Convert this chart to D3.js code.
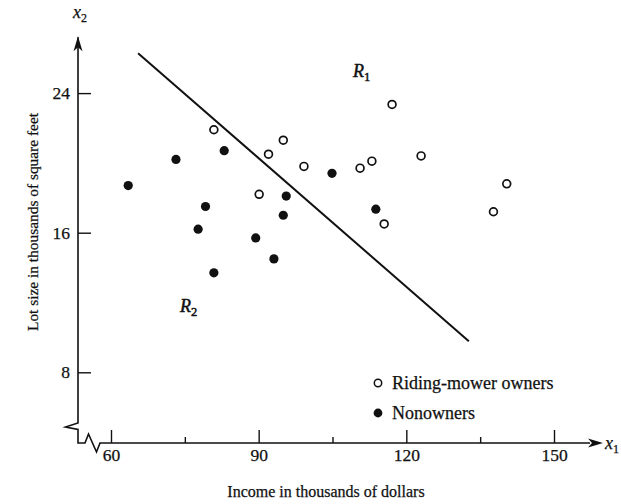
<!DOCTYPE html>
<html>
<head>
<meta charset="utf-8">
<script src="https://cdn.jsdelivr.net/npm/d3@7"></script>
<style>
  html, body { margin: 0; padding: 0; background: #fff; }
  svg { display: block; }
  text { font-family: "Liberation Serif", "Times New Roman", serif; fill: #111; stroke: #111; stroke-width: 0.25px; }
</style>
</head>
<body>
<svg id="chart" width="621" height="504"></svg>
<script>
// ---- data ----
const ownersIncome    = [80.9, 95.0, 92.0, 99.2, 90.1, 110.6, 113.0, 117.1, 115.5, 123.0, 140.4, 137.7];
const ownersLot       = [21.9, 21.3, 20.5, 19.8, 18.2, 19.7, 20.1, 23.35, 16.5, 20.4, 18.8, 17.2];
const nonownersIncome = [83.0, 73.2, 63.5, 79.2, 77.7, 80.9, 89.4, 93.1, 95.0, 95.6, 104.9, 113.8];
const nonownersLot    = [20.7, 20.2, 18.7, 17.5, 16.2, 13.7, 15.7, 14.5, 17.0, 18.1, 19.4, 17.35];
const boundaryX = [65.5, 132.7];
const boundaryY = [26.29, 9.78];
const xMajorTicks = [60, 90, 120, 150];
const xMinorTicks = [75, 105, 135];
const yTicks = [8, 16, 24];
const legendLabels = ["Riding-mower owners", "Nonowners"];
const xTitle = "Income in thousands of dollars";
const yTitle = "Lot size in thousands of square feet";

// ---- layout ----
const svg = d3.select("#chart");
svg.append("rect").attr("width", 621).attr("height", 504).attr("fill", "#fff");

const x = d3.scaleLinear().domain([60, 150]).range([111, 554]);
const y = d3.scaleLinear().domain([4, 28]).range([442.1, 23.3]);
const axisX = 78;     // pixel x of vertical axis
const axisY = 443;    // pixel y of horizontal axis
const ink = "#111";

// axis lines with break
const axisPath = d3.path();
axisPath.moveTo(axisX, y(27.2));
axisPath.lineTo(axisX, axisY - 20);
axisPath.lineTo(axisX - 12.5, axisY - 16);
axisPath.lineTo(axisX, axisY - 13.5);
axisPath.lineTo(axisX, axisY);
axisPath.lineTo(axisX + 7, axisY);
axisPath.lineTo(axisX + 10.5, axisY - 9);
axisPath.lineTo(axisX + 18.5, axisY + 9);
axisPath.lineTo(axisX + 22, axisY);
axisPath.lineTo(590, axisY);
svg.append("path").attr("d", axisPath.toString())
  .attr("fill", "none").attr("stroke", ink).attr("stroke-width", 1.6)
  .attr("stroke-linejoin", "miter");

// arrowheads
svg.append("path")
  .attr("d", `M${axisX},${y(27.2)-1} L${axisX-4.5},${y(27.2)+14} L${axisX},${y(27.2)+10} L${axisX+4.5},${y(27.2)+14} Z`)
  .attr("fill", ink);
svg.append("path")
  .attr("d", `M603,${axisY} L588,${axisY-4.5} L592,${axisY} L588,${axisY+4.5} Z`)
  .attr("fill", ink);

// y axis ticks
const yAxis = d3.axisLeft(y).tickValues(yTicks).tickSizeInner(-13).tickSizeOuter(0).tickPadding(8)
  .tickFormat(d3.format("d"));
const gy = svg.append("g").attr("transform", `translate(${axisX},0)`).call(yAxis);
gy.select(".domain").remove();
gy.selectAll("line").attr("stroke", ink).attr("stroke-width", 1.4);
gy.selectAll("text").style("font-family", "Liberation Serif").style("font-size", "17.5px").attr("fill", ink);

// x axis ticks
const xAxis = d3.axisBottom(x).tickValues(xMajorTicks).tickSizeInner(-13).tickSizeOuter(0).tickPadding(6)
  .tickFormat(d3.format("d"));
const gx = svg.append("g").attr("transform", `translate(0,${axisY})`).call(xAxis);
gx.select(".domain").remove();
gx.selectAll("line").attr("stroke", ink).attr("stroke-width", 1.4);
gx.selectAll("text").style("font-family", "Liberation Serif").style("font-size", "17.5px").attr("fill", ink);

const xMinor = d3.axisBottom(x).tickValues(xMinorTicks).tickSizeInner(-6).tickSizeOuter(0).tickFormat("");
const gxm = svg.append("g").attr("transform", `translate(0,${axisY})`).call(xMinor);
gxm.select(".domain").remove();
gxm.selectAll("line").attr("stroke", ink).attr("stroke-width", 1.4);

// axis variable labels x1, x2
const x2 = svg.append("text").attr("x", 73).attr("y", 18)
  .style("font-size", "18px").style("font-style", "italic");
x2.append("tspan").text("x");
x2.append("tspan").attr("dy", 4).style("font-size", "12px").style("font-style", "normal").text("2");

const x1 = svg.append("text").attr("x", 605).attr("y", 449)
  .style("font-size", "18px").style("font-style", "italic");
x1.append("tspan").text("x");
x1.append("tspan").attr("dy", 4).style("font-size", "12px").style("font-style", "normal").text("1");

// axis titles
svg.append("text").attr("x", 326).attr("y", 497).attr("text-anchor", "middle")
  .style("font-size", "16px").text(xTitle);
svg.append("text").attr("transform", `translate(38,222) rotate(-90)`).attr("text-anchor", "middle")
  .style("font-size", "15.4px").text(yTitle);

// boundary line
const lineData = boundaryX.map((d, i) => [d, boundaryY[i]]);
svg.append("path")
  .attr("d", d3.line().x(d => x(d[0])).y(d => y(d[1]))(lineData))
  .attr("fill", "none").attr("stroke", ink).attr("stroke-width", 2);

// points
const owners = ownersIncome.map((d, i) => [d, ownersLot[i]]);
const nonowners = nonownersIncome.map((d, i) => [d, nonownersLot[i]]);
svg.append("g").selectAll("circle").data(owners).join("circle")
  .attr("cx", d => x(d[0])).attr("cy", d => y(d[1])).attr("r", 3.9)
  .attr("fill", "#fff").attr("stroke", ink).attr("stroke-width", 1.7);
svg.append("g").selectAll("circle").data(nonowners).join("circle")
  .attr("cx", d => x(d[0])).attr("cy", d => y(d[1])).attr("r", 4.6)
  .attr("fill", ink);

// region labels
function regionLabel(px, py, sub) {
  const t = svg.append("text").attr("x", px).attr("y", py)
    .style("font-size", "18px").style("font-style", "italic").style("stroke-width", "0.5px");
  t.append("tspan").text("R");
  t.append("tspan").attr("dy", 4).style("font-size", "12.5px").style("font-style", "normal").text(sub);
}
regionLabel(353, 77, "1");
regionLabel(180, 312, "2");

// legend
const legendY = [383, 413];
svg.append("circle").attr("cx", 378).attr("cy", legendY[0]).attr("r", 3.7)
  .attr("fill", "#fff").attr("stroke", ink).attr("stroke-width", 1.5);
svg.append("circle").attr("cx", 378).attr("cy", legendY[1]).attr("r", 4.4).attr("fill", ink);
legendLabels.forEach((lab, i) => {
  svg.append("text").attr("x", 392).attr("y", legendY[i] + 6)
    .style("font-size", "18px").text(lab);
});
</script>
</body>
</html>
